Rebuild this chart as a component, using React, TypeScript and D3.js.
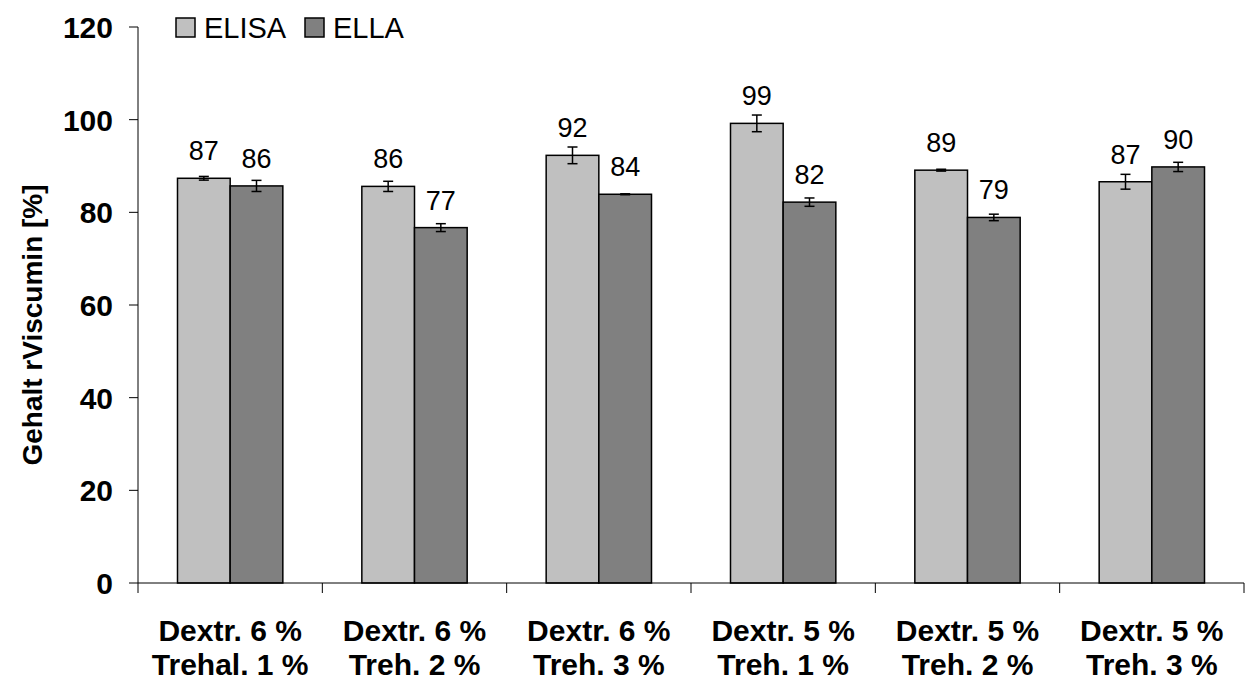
import * as React from 'react';
import { useEffect, useRef } from 'react';
import * as d3 from 'd3';

const categories = [
  ['Dextr. 6 %', 'Trehal. 1 %'],
  ['Dextr. 6 %', 'Treh. 2 %'],
  ['Dextr. 6 %', 'Treh. 3 %'],
  ['Dextr. 5 %', 'Treh. 1 %'],
  ['Dextr. 5 %', 'Treh. 2 %'],
  ['Dextr. 5 %', 'Treh. 3 %'],
];
const seriesNames = ['ELISA', 'ELLA'];
const elisaValues = [87.35, 85.6, 92.3, 99.2, 89.1, 86.6];
const ellaValues = [85.7, 76.7, 83.9, 82.2, 78.9, 89.8];
const elisaErrors = [0.4, 1.1, 1.8, 1.8, 0.2, 1.6];
const ellaErrors = [1.2, 0.85, 0.1, 0.9, 0.7, 1.0];
const yTicks = [0, 20, 40, 60, 80, 100, 120];

const colors = ['#C0C0C0', '#808080'];
const FONT = '"Liberation Sans", Arial, sans-serif';

const W = 1246;
const H = 682;
const margin = { left: 138, right: 2, top: 27, bottom: 99 };

export default function App() {
  const ref = useRef<SVGSVGElement>(null);

  useEffect(() => {
    const svg = d3.select(ref.current);
    svg.selectAll('*').remove();

    const x0 = d3.scaleBand<number>()
      .domain(d3.range(categories.length))
      .range([margin.left, W - margin.right])
      .padding(0);
    // Excel style gap width 150%
    const x1 = d3.scaleBand<number>()
      .domain(d3.range(seriesNames.length))
      .range([0, x0.bandwidth()])
      .paddingInner(0)
      .paddingOuter(0.75);
    const y = d3.scaleLinear().domain([0, 120]).range([H - margin.bottom, margin.top]);

    const series = [
      { values: elisaValues, errors: elisaErrors },
      { values: ellaValues, errors: ellaErrors },
    ];

    // bars
    series.forEach((s, si) => {
      const g = svg.append('g');
      g.selectAll('rect')
        .data(s.values)
        .enter().append('rect')
        .attr('x', (_d, i) => x0(i)! + x1(si)!)
        .attr('y', (d) => y(d))
        .attr('width', x1.bandwidth())
        .attr('height', (d) => y(0) - y(d))
        .attr('fill', colors[si])
        .attr('stroke', '#000')
        .attr('stroke-width', 1.5);
    });

    // error bars + labels
    series.forEach((s, si) => {
      const g = svg.append('g');
      s.values.forEach((v, i) => {
        const cx = x0(i)! + x1(si)! + x1.bandwidth() / 2;
        const e = s.errors[i];
        g.append('line')
          .attr('x1', cx).attr('x2', cx)
          .attr('y1', y(v + e)).attr('y2', y(v - e))
          .attr('stroke', '#000').attr('stroke-width', 1.5);
        [v + e, v - e].forEach((ev) => {
          g.append('line')
            .attr('x1', cx - 5).attr('x2', cx + 5)
            .attr('y1', y(ev)).attr('y2', y(ev))
            .attr('stroke', '#000').attr('stroke-width', 1.5);
        });
        g.append('text')
          .attr('x', cx)
          .attr('y', y(v) - 18)
          .attr('text-anchor', 'middle')
          .attr('font-family', FONT)
          .attr('font-size', 27)
          .attr('fill', '#000')
          .text(d3.format('.0f')(v));
      });
    });

    // y axis
    const yAxis = svg.append('g');
    yAxis.append('line')
      .attr('x1', margin.left).attr('x2', margin.left)
      .attr('y1', y(120)).attr('y2', y(0))
      .attr('stroke', '#000').attr('stroke-width', 1);
    yTicks.forEach((t) => {
      yAxis.append('line')
        .attr('x1', margin.left - 9).attr('x2', margin.left)
        .attr('y1', y(t)).attr('y2', y(t))
        .attr('stroke', '#000').attr('stroke-width', 1);
      yAxis.append('text')
        .attr('x', 113)
        .attr('y', y(t) + 11)
        .attr('text-anchor', 'end')
        .attr('font-family', FONT)
        .attr('font-weight', 'bold')
        .attr('font-size', 30)
        .text(t);
    });

    // x axis
    const xAxis = svg.append('g');
    xAxis.append('line')
      .attr('x1', margin.left).attr('x2', W - margin.right)
      .attr('y1', y(0)).attr('y2', y(0))
      .attr('stroke', '#000').attr('stroke-width', 1);
    d3.range(categories.length + 1).forEach((i) => {
      const tx = margin.left + i * x0.step();
      xAxis.append('line')
        .attr('x1', tx).attr('x2', tx)
        .attr('y1', y(0)).attr('y2', y(0) + 10)
        .attr('stroke', '#000').attr('stroke-width', 1);
    });
    categories.forEach((lines, i) => {
      const cx = x0(i)! + x0.bandwidth() / 2;
      lines.forEach((l, li) => {
        xAxis.append('text')
          .attr('x', cx)
          .attr('y', 641 + li * 34)
          .attr('text-anchor', 'middle')
          .attr('font-family', FONT)
          .attr('font-weight', 'bold')
          .attr('font-size', 30)
          .text(l);
      });
    });

    // axis title
    svg.append('text')
      .attr('transform', 'translate(42,325) rotate(-90)')
      .attr('text-anchor', 'middle')
      .attr('font-family', FONT)
      .attr('font-weight', 'bold')
      .attr('font-size', 28)
      .text('Gehalt rViscumin [%]');

    // legend
    const legendX = [176, 305];
    seriesNames.forEach((name, si) => {
      svg.append('rect')
        .attr('x', legendX[si]).attr('y', 18)
        .attr('width', 19).attr('height', 19)
        .attr('fill', colors[si])
        .attr('stroke', '#000').attr('stroke-width', 1.5);
      svg.append('text')
        .attr('x', legendX[si] + 28)
        .attr('y', 38)
        .attr('font-family', FONT)
        .attr('font-size', 29)
        .text(name);
    });
  }, []);

  return (
    <svg
      ref={ref}
      width={W}
      height={H}
      style={{ position: 'absolute', left: 0, top: 0, background: '#fff' }}
    />
  );
}
